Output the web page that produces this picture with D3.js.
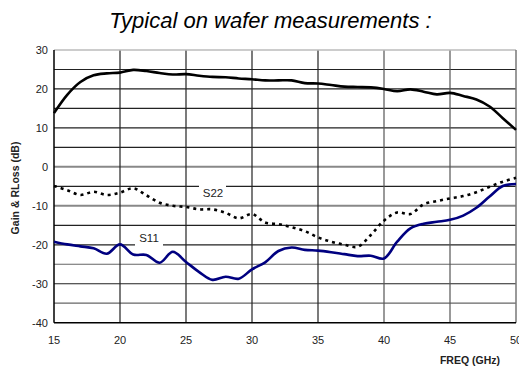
<!DOCTYPE html>
<html><head><meta charset="utf-8">
<script src="https://cdn.jsdelivr.net/npm/d3@7"></script>
<style>body{margin:0;background:#fff}svg{display:block}</style>
</head><body><svg id="c" width="519" height="366"></svg>
<script>
const freq = [15,16,17,18,19,20,21,22,23,24,25,26,27,28,29,30,31,32,33,34,35,36,37,38,39,40,41,42,43,44,45,46,47,48,49,50];
const gain = [13.8,18.5,21.8,23.5,24.0,24.2,24.9,24.6,24.1,23.7,23.8,23.4,23.1,23.0,22.7,22.5,22.2,22.2,22.2,21.5,21.4,21.0,20.6,20.5,20.4,20.0,19.4,19.9,19.3,18.6,19.0,18.2,17.3,15.5,12.5,9.5];
const s22 = [-4.9,-6.0,-7.2,-6.4,-7.2,-6.6,-5.5,-7.3,-9.2,-10.0,-10.3,-10.9,-10.9,-11.8,-13.2,-12.1,-14.3,-14.7,-15.5,-16.5,-18.1,-19.2,-20.0,-20.5,-17.5,-13.8,-11.7,-12.1,-9.6,-8.8,-8.1,-7.5,-6.5,-5.1,-3.8,-2.8];
const s11 = [-19.2,-19.9,-20.4,-20.9,-22.3,-19.9,-22.5,-22.6,-24.6,-21.8,-24.4,-27.0,-29.0,-28.2,-28.7,-26.3,-24.5,-21.6,-20.7,-21.3,-21.5,-21.9,-22.4,-22.9,-22.8,-23.5,-19.2,-15.8,-14.6,-14.1,-13.6,-12.5,-10.5,-7.6,-4.9,-4.4];
const xTicks = [15,20,25,30,35,40,45,50];
const yTicks = [30,20,10,0,-10,-20,-30,-40];
const yGrid = [25,20,15,10,5,0,-5,-10,-15,-20,-25,-30,-35];
const title = "Typical on wafer measurements :";
const xTitle = "FREQ (GHz)";
const yTitle = "Gain & RLoss (dB)";

const svg = d3.select("#c");
const L=54, R=516, T=50, B=322.7;
const x = d3.scaleLinear().domain([15,50]).range([L,R]);
const y = d3.scaleLinear().domain([-40,30]).range([B,T]);
const font = "Liberation Sans, Arial, sans-serif";

svg.append("text").attr("x",270.5).attr("y",28).attr("text-anchor","middle")
  .attr("font-family",font).attr("font-style","italic").attr("font-size",22).attr("fill","#000").text(title);

const grayH = new Set([0,-10,-25,-35]);
svg.append("g").selectAll("line").data(yGrid).join("line")
  .attr("x1",L).attr("x2",R).attr("y1",d=>y(d)).attr("y2",d=>y(d))
  .attr("stroke",d=>d===0||d===-10?"#888":(grayH.has(d)?"#666":"#222"))
  .attr("stroke-width",d=>d===0||d===-10?2:1.2);
svg.append("g").selectAll("line").data(xTicks.filter(d=>d>15&&d<50)).join("line")
  .attr("y1",T).attr("y2",B).attr("x1",d=>x(d)).attr("x2",d=>x(d))
  .attr("stroke",d=>d>=40?"#555":"#222").attr("stroke-width",1.2);
svg.append("line").attr("x1",L).attr("x2",R).attr("y1",T).attr("y2",T).attr("stroke","#bbb").attr("stroke-width",1.5);
svg.append("line").attr("x1",R).attr("x2",R).attr("y1",T).attr("y2",B).attr("stroke","#777").attr("stroke-width",1.5);
svg.append("line").attr("x1",L).attr("x2",L).attr("y1",T).attr("y2",B).attr("stroke","#000").attr("stroke-width",1.5);
svg.append("line").attr("x1",L).attr("x2",R).attr("y1",B).attr("y2",B).attr("stroke","#000").attr("stroke-width",1.5);

function lab(txt, cx, cy, bx0, bx1, ly){
  svg.append("rect").attr("x",bx0).attr("y",ly-2).attr("width",bx1-bx0).attr("height",14).attr("fill","#fff");
  svg.append("text").attr("x",cx).attr("y",cy).attr("text-anchor","middle").attr("font-family",font)
    .attr("font-size",11.5).attr("fill","#222").text(txt);
}
lab("S22", 213, 197, 199, 226, y(-5));
lab("S11", 149, 242, 135, 163, y(-20));

const line = d3.line().x((d,i)=>x(freq[i])).y(d=>y(d)).curve(d3.curveCatmullRom.alpha(0.5));
svg.append("path").datum(gain).attr("d",line).attr("fill","none").attr("stroke","#000").attr("stroke-width",2.6);
svg.append("path").datum(s22).attr("d",line).attr("fill","none").attr("stroke","#000").attr("stroke-width",2.6).attr("stroke-dasharray","3,4");
svg.append("path").datum(s11).attr("d",line).attr("fill","none").attr("stroke","#000080").attr("stroke-width",2.6);

svg.append("g").selectAll("text").data(yTicks).join("text")
  .attr("x",48).attr("y",d=>y(d)+4).attr("text-anchor","end").attr("font-family",font).attr("font-size",11).attr("fill","#222").text(d=>d);
svg.append("g").selectAll("text").data(xTicks).join("text")
  .attr("x",d=>x(d)).attr("y",344).attr("text-anchor","middle").attr("font-family",font).attr("font-size",11).attr("fill","#222").text(d=>d);

svg.append("text").attr("x",470).attr("y",364).attr("text-anchor","middle").attr("font-family",font)
  .attr("font-weight","bold").attr("font-size",10.5).attr("fill","#222").text(xTitle);
svg.append("text").attr("transform","translate(19,188) rotate(-90)").attr("text-anchor","middle").attr("font-family",font)
  .attr("font-weight","bold").attr("font-size",10.5).attr("fill","#222").text(yTitle);
</script></body></html>
